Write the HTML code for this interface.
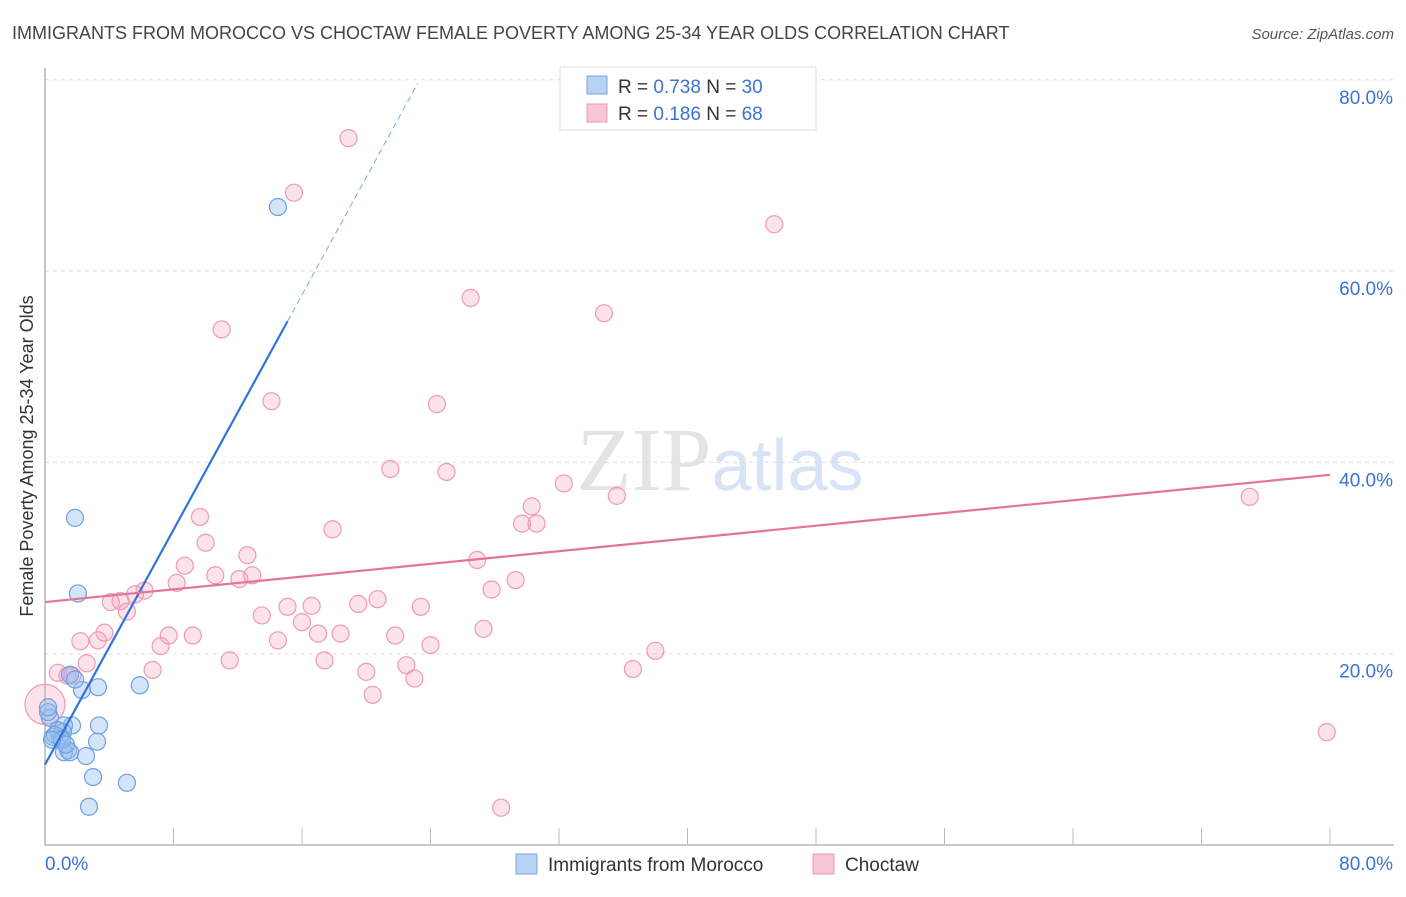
<!DOCTYPE html>
<html><head><meta charset="utf-8"><style>
body{margin:0;background:#fff;font-family:"Liberation Sans",sans-serif}
svg text{font-family:"Liberation Sans",sans-serif}
</style></head><body>
<svg id="chart" width="1406" height="892" xmlns="http://www.w3.org/2000/svg">
<text x="12" y="39" font-size="18" fill="#444">IMMIGRANTS FROM MOROCCO VS CHOCTAW FEMALE POVERTY AMONG 25-34 YEAR OLDS CORRELATION CHART</text>
<text x="1394" y="39" font-size="15" fill="#555" text-anchor="end" font-style="italic">Source: ZipAtlas.com</text>
<text x="720" y="490" font-size="90" text-anchor="middle" fill="#e4e4e4"><tspan font-family="Liberation Serif">ZIP</tspan><tspan fill="#d6e4f5" font-size="72">atlas</tspan></text>
<text transform="translate(33,456) rotate(-90)" font-size="18" fill="#333" text-anchor="middle">Female Poverty Among 25-34 Year Olds</text>
<g id="grid"></g><g id="axes"></g><g id="pts"></g><g id="lines"></g>
<g>
<rect x="560" y="67" width="256" height="63" fill="#fff" stroke="#ddd"/>
<rect x="587" y="76" width="20" height="18" fill="#b7d2f5" stroke="#7aa7e0"/>
<text x="618" y="93" font-size="19" fill="#333">R = <tspan fill="#3b73d1">0.738</tspan>   N = <tspan fill="#3b73d1">30</tspan></text>
<rect x="587" y="104" width="20" height="18" fill="#f9c6d4" stroke="#eb9ab2"/>
<text x="618" y="120" font-size="19" fill="#333">R =  <tspan fill="#3b73d1">0.186</tspan>   N = <tspan fill="#3b73d1">68</tspan></text>
</g>
<g>
<rect x="516" y="854" width="21" height="20" fill="#b7d2f5" stroke="#7aa7e0"/>
<text x="548" y="871" font-size="19" fill="#333">Immigrants from Morocco</text>
<rect x="813" y="854" width="21" height="20" fill="#f9c6d4" stroke="#eb9ab2"/>
<text x="845" y="871" font-size="19" fill="#333">Choctaw</text>
</g>
</svg>
<script>
const yTicks=[20,40,60,80];
const yTickLabels=["20.0%","40.0%","60.0%","80.0%"];
const xTickLabels=["0.0%","80.0%"];
const blueX=[14.5,1.87,2.05,5.9,3.3,2.3,1.56,3.36,1.68,1.18,0.31,0.19,3.24,0.93,0.5,1.12,0.8,1.43,1.18,1.56,2.55,2.99,5.1,2.74,0.19,1.87,0.62,1.06,1.3,0.44];
const blueY=[66.7,34.2,26.3,16.7,16.5,16.2,17.8,12.5,12.5,12.5,13.3,13.9,10.8,11.2,11.3,11.8,12.0,9.9,9.7,9.7,9.3,7.1,6.5,4.0,14.4,17.3,11.5,11.0,10.5,11.0];
const pinkX=[18.9,15.5,45.4,26.5,34.8,11.0,14.1,24.4,21.5,25.0,32.3,35.6,75.0,30.3,9.65,29.7,30.6,17.9,10.0,12.6,26.9,8.7,10.6,12.1,12.9,8.2,29.3,6.2,5.6,27.8,4.7,4.1,20.7,19.5,5.1,23.4,15.1,16.6,13.5,16.0,27.3,17.0,18.4,7.7,9.2,3.7,14.5,21.8,2.2,3.3,7.2,24.0,38.0,2.6,11.5,17.4,22.5,0.8,6.7,36.6,1.7,20.0,23.0,20.4,79.8,28.4,1.4,0];
const pinkY=[73.9,68.2,64.9,57.2,55.6,53.9,46.4,46.1,39.3,39.0,37.8,36.5,36.4,35.4,34.3,33.6,33.6,33.0,31.6,30.3,29.8,29.2,28.2,27.8,28.2,27.4,27.7,26.6,26.2,26.7,25.5,25.4,25.7,25.2,24.4,24.9,24.9,25.0,24.0,23.3,22.6,22.1,22.1,21.9,21.9,22.2,21.4,21.9,21.3,21.4,20.8,20.9,20.3,19.0,19.3,19.3,18.8,18.0,18.3,18.4,17.7,18.1,17.4,15.7,11.8,3.9,17.7,14.7];
const blueFit=[8.4,3.07], pinkFit=[25.4,(38.7-25.4)/80];
const NS="http://www.w3.org/2000/svg";
const sx=v=>45+v/80*1285, sy=v=>845-v/20*191.3;
function mk(parent,tag,attrs){const e=document.createElementNS(NS,tag);for(const k in attrs)e.setAttribute(k,attrs[k]);document.getElementById(parent).appendChild(e);return e;}
yTicks.forEach((t,i)=>{
 const g=mk('grid','line',{x1:45,x2:1394,y1:sy(t),y2:sy(t),stroke:'#ddd','stroke-dasharray':'4,4'});
 
 
 const l=mk('axes','text',{x:1393,y:sy(t)+24,'font-size':19,fill:'#3b73d1','text-anchor':'end'});l.textContent=yTickLabels[i];
 
 
});
let a=mk('axes','path',{d:'M45,68 V845 H1394',stroke:'#aaa',fill:'none','stroke-width':1.3});


for(let i=1;i<=10;i++){const t=mk('axes','line',{x1:sx(i*8),x2:sx(i*8),y1:828,y2:845,stroke:'#bbb'});
 
 }
[[0,45,'start'],[80,1393,'end']].forEach((p,i)=>{const l=mk('axes','text',{x:p[1],y:870,'font-size':19,fill:'#3b73d1','text-anchor':p[2]});l.textContent=xTickLabels[i];
 
 });
pinkX.forEach((x,i)=>{const c=mk('pts','circle',{cx:sx(x),cy:sy(pinkY[i]),r:x===0?20:8.5,fill:'rgba(244,160,185,0.3)',stroke:'#ef9ab3','stroke-width':1.2});
 
 });
blueX.forEach((x,i)=>{const c=mk('pts','circle',{cx:sx(x),cy:sy(blueY[i]),r:8.5,fill:'rgba(150,190,240,0.4)',stroke:'#6f9fe0','stroke-width':1.2});
 
 });
let b=mk('lines','line',{x1:sx(0),y1:sy(blueFit[0]),x2:sx(15.1),y2:sy(blueFit[0]+blueFit[1]*15.1),stroke:'#2f74d8','stroke-width':2.2});


let bd=mk('lines','line',{x1:sx(15.1),y1:sy(blueFit[0]+blueFit[1]*15.1),x2:sx(23.2),y2:sy(blueFit[0]+blueFit[1]*23.2),stroke:'#7aa7e0','stroke-width':1,'stroke-dasharray':'6,4'});


let p=mk('lines','line',{x1:sx(0),y1:sy(pinkFit[0]),x2:sx(80),y2:sy(pinkFit[0]+pinkFit[1]*80),stroke:'#e4739a','stroke-width':2.2});


</script>
</body></html>
